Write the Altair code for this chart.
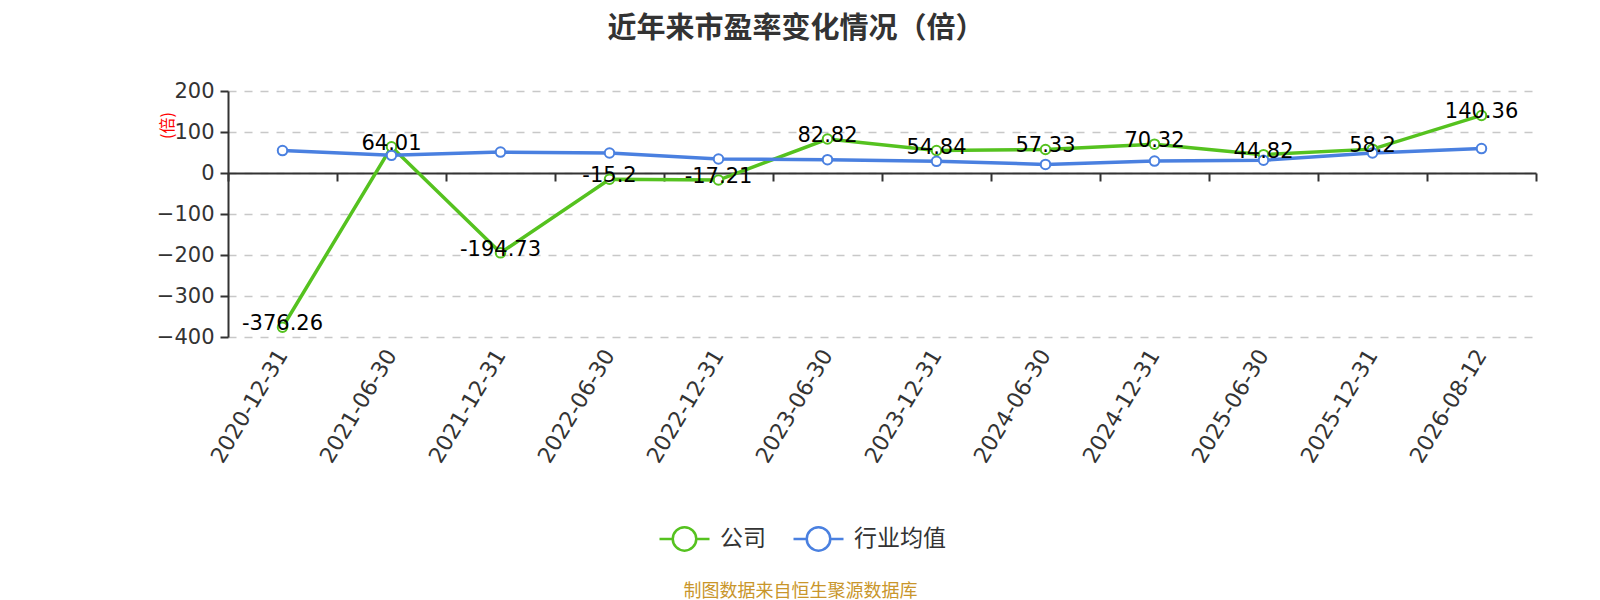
import altair as alt
import pandas as pd

categories = ["2020-12-31", "2021-06-30", "2021-12-31", "2022-06-30", "2022-12-31",
              "2023-06-30", "2023-12-31", "2024-06-30", "2024-12-31", "2025-06-30",
              "2025-12-31", "2026-08-12"]
company = [-376.26, 64.01, -194.73, -15.2, -17.21, 82.82, 54.84, 57.33, 70.32, 44.82, 58.2, 140.36]
industry = [54.6, 43.0, 51.0, 48.8, 34.0, 32.5, 28.5, 21.0, 29.0, 31.0, 49.0, 59.5]
series_names = ["公司", "行业均值"]
series_colors = ["#55c21f", "#4a80e0"]
y_ticks = [-400, -300, -200, -100, 0, 100, 200]
y_domain = [-400, 200]

title_text = "近年来市盈率变化情况（倍）"
y_title = "(倍)"
footer_text = "制图数据来自恒生聚源数据库"

rows = []
for c, v in zip(categories, company):
    rows.append({"date": c, "series": series_names[0], "value": v, "label": f"{v:g}"})
for c, v in zip(categories, industry):
    rows.append({"date": c, "series": series_names[1], "value": v, "label": f"{v:g}"})
df = pd.DataFrame(rows)

W, H = 1308, 246
zero_pos = H * (y_domain[1] - 0) / (y_domain[1] - y_domain[0])

NUM_FONT = "DejaVu Sans"
CJK_FONT = "Noto Sans CJK SC"

xscale = alt.Scale(type="band", paddingInner=0, paddingOuter=0)

label_axis = alt.Axis(
    orient="bottom", domain=False, ticks=False, tickSize=0, grid=False,
    labelAngle=-59, labelFontSize=22, labelFont=NUM_FONT, labelColor="#333",
    labelPadding=14, labelAlign="right", labelBaseline="middle",
    title=footer_text, titleFont=CJK_FONT, titleFontSize=18, titleFontWeight="normal",
    titleColor="#c9962b", titleX=800 - 228, titleY=254, titleAlign="center",
    titleBaseline="middle", titleAnchor="start",
)
zero_axis = alt.Axis(
    orient="bottom", offset=-(H - zero_pos), labels=False, domain=True,
    domainColor="#333", domainWidth=2, ticks=True, tickColor="#333",
    tickWidth=2, tickSize=8, tickBand="extent", grid=False, title=None,
)
y_axis = alt.Axis(
    values=y_ticks, grid=True, gridDash=[8, 8], gridColor="#c8c8c8", gridWidth=1.5,
    domainColor="#333", domainWidth=2, tickColor="#333", tickSize=8, tickWidth=2,
    labelFontSize=21, labelFont=NUM_FONT, labelColor="#333", labelPadding=6,
    title=y_title, titleColor="#ff0000", titleFontSize=16, titleFontWeight="normal",
    titleFont=CJK_FONT, titleX=-61, titleY=34, titleAngle=-90, titleAlign="center",
    titleBaseline="middle",
)

legend_path = ("M-1,0 L-0.47,0 M0.47,0 L1,0 "
               "M0.47,0 A0.47,0.47 0 1 1 -0.47,0 A0.47,0.47 0 1 1 0.47,0 Z")
legend = alt.Legend(
    orient="none", legendX=430, legendY=421, direction="horizontal", title=None,
    symbolType=legend_path, symbolSize=2500, symbolStrokeWidth=2.5,
    symbolFillColor="white", symbolOpacity=1, labelFontSize=23, labelFont=CJK_FONT,
    labelColor="#333", labelOffset=9, columnPadding=22,
)
color = alt.Color("series:N", scale=alt.Scale(domain=series_names, range=series_colors),
                  legend=legend, sort=series_names)

yenc = alt.Y("value:Q", scale=alt.Scale(domain=y_domain, nice=False, zero=False), axis=y_axis)

base = alt.Chart(df)

lines = base.mark_line(strokeWidth=3.5).encode(
    x=alt.X("date:N", sort=categories, scale=xscale, bandPosition=0.5, axis=label_axis),
    y=yenc, color=color,
)
points = base.mark_point(shape="circle", filled=False, fill="white", fillOpacity=1,
                         size=90, strokeWidth=2, opacity=1).encode(
    x=alt.X("date:N", sort=categories, scale=xscale, bandPosition=0.5, axis=None),
    y=yenc, color=color,
)
labels = base.transform_filter(alt.datum.series == series_names[0]).mark_text(
    dy=-3, fontSize=21, font=NUM_FONT, color="black", baseline="middle", align="center"
).encode(
    x=alt.X("date:N", sort=categories, scale=xscale, bandPosition=0.5, axis=zero_axis),
    y=yenc, text="label:N",
)

chart = alt.layer(lines, points, labels).resolve_axis(x="independent").properties(
    width=W, height=H,
    autosize=alt.AutoSizeParams(type="none"),
    padding={"left": 220, "top": 83, "right": 56, "bottom": 270},
    title=alt.TitleParams(title_text, fontSize=29, fontWeight="bold", color="#333",
                          font=CJK_FONT, anchor="middle", dx=-86, offset=36),
).configure_view(stroke=None)

chart.save("out.html", embed_options={"renderer": "svg", "actions": False})
